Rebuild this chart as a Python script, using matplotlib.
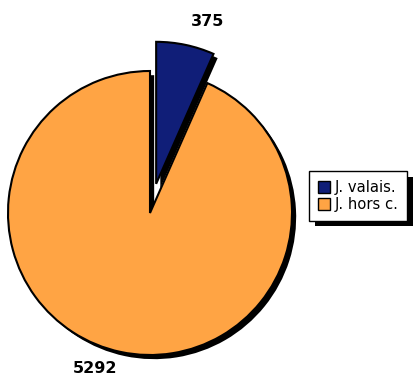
import numpy as np
import matplotlib
matplotlib.use("Agg")
import matplotlib.pyplot as plt
import matplotlib.patheffects as pe
from matplotlib.patches import Patch

labels = ["J. valais.", "J. hors c."]
values = [375, 5292]
colors = ["#101E78", "#FFA444"]
explode = [0.21, 0.0]

W, H, DPI = 414, 378, 100
fig = plt.figure(figsize=(W / DPI, H / DPI), dpi=DPI)

# Pie area: one data unit equals the radius
R_PX = 142.0
cx, cy = 150.0, 213.0
ax_w = 300.0
ax = fig.add_axes([0, 0, ax_w / W, 1])

shadow = [pe.SimplePatchShadow(offset=(3, -3), shadow_rgbFace="black", alpha=1.0),
          pe.Normal()]

wedges, _ = ax.pie(values, colors=colors, explode=explode, startangle=90,
                   counterclock=False, radius=1.0, center=(0, 0), frame=True,
                   wedgeprops=dict(edgecolor="black", linewidth=1.5))
ax.set_xlim(-cx / R_PX, (ax_w - cx) / R_PX)
ax.set_ylim((cy - H) / R_PX, cy / R_PX)
ax.set_aspect("auto")
ax.axis("off")
for w in wedges:
    w.set_path_effects(shadow)

# Value labels placed outside each wedge along its mid-angle
label_dist = [1.17, 1.12]
for w, v, d in zip(wedges, values, label_dist):
    mid = np.deg2rad((w.theta1 + w.theta2) / 2)
    x0, y0 = w.center
    xt, yt = x0 + d * np.cos(mid), y0 + d * np.sin(mid)
    ax.text(xt, yt, str(v), ha="left" if np.cos(mid) > 0 else "right",
            va="center", fontsize=11.5, fontweight="bold", family="DejaVu Sans",
            clip_on=False)

handles = [Patch(facecolor=c, edgecolor="black", linewidth=1.0) for c in colors]
leg = fig.legend(handles, labels, loc="upper left",
                 bbox_to_anchor=(309 / W, 1 - 171 / H), borderaxespad=0,
                 frameon=True, fancybox=False, shadow=False, framealpha=1.0,
                 facecolor="white",
                 prop=dict(family="DejaVu Sans", size=10.6),
                 handlelength=0.85, handleheight=0.85, handletextpad=0.3,
                 labelspacing=0.15, borderpad=0.6)
frame = leg.get_frame()
frame.set_edgecolor("black")
frame.set_linewidth(1.0)
frame.set_path_effects([pe.SimplePatchShadow(offset=(4, -4), shadow_rgbFace="black",
                                              alpha=1.0), pe.Normal()])

fig.savefig("out.png", dpi=DPI)
